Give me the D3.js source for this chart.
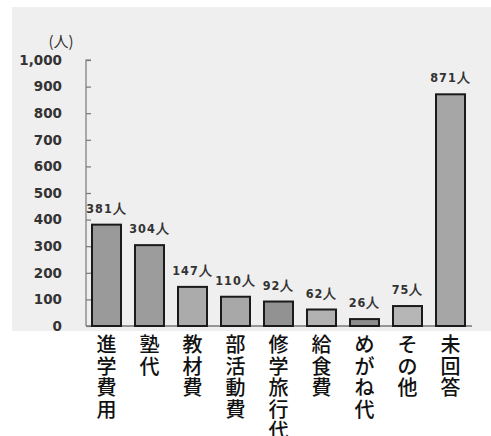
<!DOCTYPE html>
<html>
<head>
<meta charset="utf-8">
<script src="https://cdn.jsdelivr.net/npm/d3@7"></script>
<style>
  html, body { margin: 0; padding: 0; background: #fff; }
  svg { display: block; }
</style>
</head>
<body>
<svg id="chart" width="491" height="436"></svg>
<script>
// Expense categories and respondent counts
const categories = ["進学費用", "塾代", "教材費", "部活動費", "修学旅行代", "給食費", "めがね代", "その他", "未回答"];
const counts = [381, 304, 147, 110, 92, 62, 26, 75, 871];
const barFills = ["#9a9a9a", "#9c9c9c", "#ababab", "#a8a8a8", "#929292", "#b2b2b2", "#8c8c8c", "#b6b6b6", "#a6a6a6"];
const yTicks = [0, 100, 200, 300, 400, 500, 600, 700, 800, 900, 1000];
const unitLabel = "(人)";
const valueSuffix = "人";

const svg = d3.select("#chart");

// light panel behind the plot
svg.append("rect")
  .attr("x", 12).attr("y", 7)
  .attr("width", 479).attr("height", 324)
  .attr("fill", "#efefef");

const y = d3.scaleLinear().domain([0, 1000]).range([326, 60]);
const x = d3.scaleBand()
  .domain(categories)
  .range([92, 465])
  .paddingInner(14 / 43)
  .paddingOuter(0);

// y axis: line with short inward ticks
const axisX = 86;
const yAxis = d3.axisRight(y)
  .tickValues(yTicks)
  .tickSize(5)
  .tickFormat("");
const gy = svg.append("g")
  .attr("transform", `translate(${axisX},0)`)
  .call(yAxis);
gy.select(".domain").attr("stroke", "#777").attr("stroke-width", 1.2).attr("d", `M5,${y(1000)}H0V${y(0)}`);
gy.selectAll(".tick line").attr("stroke", "#777").attr("stroke-width", 1.2);

// tick labels
svg.append("g").selectAll("text")
  .data(yTicks)
  .join("text")
  .attr("x", 62)
  .attr("y", d => y(d))
  .attr("dy", "0.36em")
  .attr("text-anchor", "end")
  .attr("font-family", "DejaVu Sans, sans-serif")
  .attr("font-weight", "bold")
  .attr("font-size", 13.5)
  .attr("fill", "#333")
  .text(d => d3.format(",")(d));

// unit label
svg.append("text")
  .attr("x", 61).attr("y", 47)
  .attr("text-anchor", "middle")
  .attr("font-family", "Noto Sans CJK JP, sans-serif")
  .attr("font-size", 15)
  .attr("fill", "#333")
  .text(unitLabel);

// baseline
svg.append("line")
  .attr("x1", axisX).attr("x2", 472)
  .attr("y1", y(0)).attr("y2", y(0))
  .attr("stroke", "#777").attr("stroke-width", 1.5);

// bars
svg.append("g").selectAll("rect")
  .data(categories)
  .join("rect")
  .attr("x", d => x(d))
  .attr("y", (d, i) => y(counts[i]))
  .attr("width", x.bandwidth())
  .attr("height", (d, i) => y(0) - y(counts[i]))
  .attr("fill", (d, i) => barFills[i])
  .attr("stroke", "#1a1a1a")
  .attr("stroke-width", 2);

// value labels
svg.append("g").selectAll("text")
  .data(categories)
  .join("text")
  .attr("x", d => x(d) + x.bandwidth() / 2)
  .attr("y", (d, i) => y(counts[i]) - 12)
  .attr("text-anchor", "middle")
  .attr("font-family", "DejaVu Sans Condensed, DejaVu Sans, sans-serif")
  .attr("font-weight", "bold")
  .attr("font-size", 12.5)
  .attr("letter-spacing", 1)
  .attr("fill", "#333")
  .text((d, i) => counts[i] + valueSuffix);

// vertical category labels, one character per row
const catG = svg.append("g").selectAll("g")
  .data(categories)
  .join("g")
  .attr("transform", d => `translate(${x(d) + x.bandwidth() / 2},0)`);
catG.selectAll("text")
  .data(d => Array.from(d))
  .join("text")
  .attr("x", 0)
  .attr("y", (c, i) => 345 + i * 21.5)
  .attr("dy", "0.36em")
  .attr("text-anchor", "middle")
  .attr("font-family", "Noto Sans CJK JP, sans-serif")
  .attr("font-weight", 500)
  .attr("font-size", 20)
  .attr("fill", "#111")
  .text(c => c);
</script>
</body>
</html>
